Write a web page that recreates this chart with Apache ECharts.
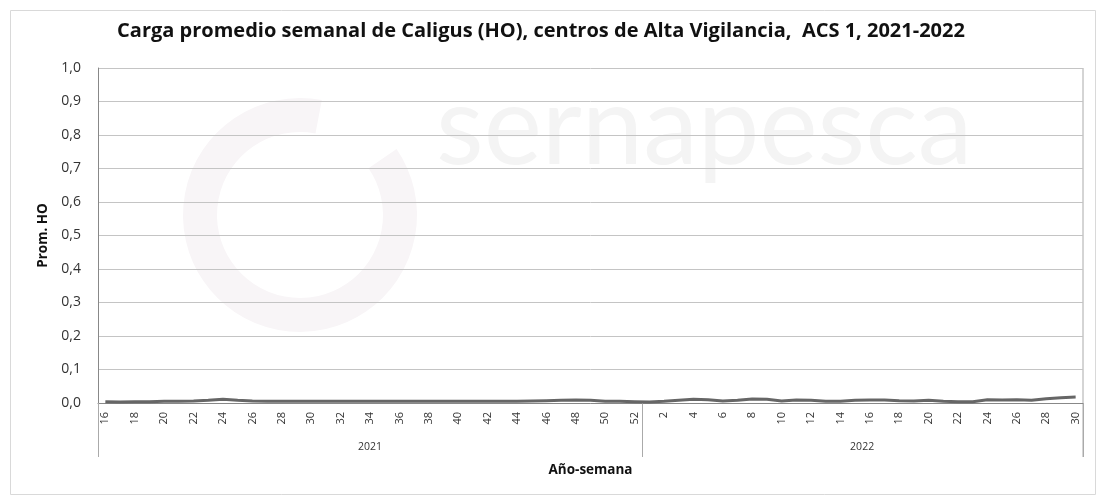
<!DOCTYPE html>
<html>
<head>
<meta charset="utf-8">
<script src="https://cdn.jsdelivr.net/npm/echarts@6/dist/echarts.min.js"></script>
<style>
  html, body { margin: 0; padding: 0; background: #fff; }
  #chart { width: 1101px; height: 500px; }
</style>
</head>
<body>
<div id="chart"></div>
<script>
// semanas 2021 (16-52) y 2022 (1-30)
const weeks2021 = [16,17,18,19,20,21,22,23,24,25,26,27,28,29,30,31,32,33,34,35,36,37,38,39,40,41,42,43,44,45,46,47,48,49,50,51,52];
const weeks2022 = [1,2,3,4,5,6,7,8,9,10,11,12,13,14,15,16,17,18,19,20,21,22,23,24,25,26,27,28,29,30];
const years = ["2021", "2022"];

// Prom. HO por semana
const promHO2021 = [0.004,0.003,0.004,0.004,0.005,0.005,0.006,0.008,0.011,0.008,0.006,0.005,0.005,0.005,0.005,0.005,0.005,0.005,0.005,0.005,0.005,0.005,0.005,0.005,0.005,0.005,0.005,0.005,0.005,0.006,0.007,0.008,0.009,0.008,0.005,0.005,0.004];
const promHO2022 = [0.003,0.005,0.008,0.011,0.010,0.006,0.008,0.012,0.011,0.006,0.009,0.008,0.005,0.005,0.008,0.009,0.009,0.007,0.006,0.008,0.005,0.004,0.004,0.010,0.009,0.010,0.008,0.013,0.016,0.018];

const yTicks = [0, 0.1, 0.2, 0.3, 0.4, 0.5, 0.6, 0.7, 0.8, 0.9, 1.0];

const weekLabels = weeks2021.concat(weeks2022).map(String);
const yearOfPoint = weeks2021.map(() => years[0]).concat(weeks2022.map(() => years[1]));
const values = promHO2021.concat(promHO2022);
const n2021 = weeks2021.length;
const mid2021 = Math.floor(n2021 / 2);
const mid2022 = n2021 + Math.floor(weeks2022.length / 2) - 1;

const myChart = echarts.init(document.getElementById("chart"));
myChart.setOption({
  animation: false,
  textStyle: { fontFamily: "Open Sans" },
  title: {
    text: "Carga promedio semanal de Caligus (HO), centros de Alta Vigilancia,  ACS 1, 2021-2022",
    left: 536,
    textAlign: "center",
    top: 16,
    textStyle: { fontSize: 20, fontWeight: "bold", color: "#111", fontFamily: "Open Sans" },
  },
  graphic: [
    {
      type: "rect",
      left: 8, top: 8,
      shape: { width: 1085, height: 484 },
      style: { fill: "none", stroke: "#d9d9d9", lineWidth: 1 },
      silent: true,
    },
    // marca de agua
    {
      type: "arc",
      z: -1,
      shape: { cx: 300, cy: 215, r: 100, startAngle: -0.6, endAngle: 4.9 },
      style: { fill: "none", stroke: "#f8f5f7", lineWidth: 34 },
      silent: true,
    },
    {
      type: "text",
      left: 436, top: 74,
      z: -1,
      style: { text: "sernapesca", fontSize: 110, fontFamily: "Lato", fill: "#f4f4f4" },
      silent: true,
    },
    {
      type: "line",
      shape: { x1: 1083, y1: 68, x2: 1083, y2: 457 },
      style: { stroke: "#aaa", lineWidth: 1 },
      silent: true,
    },
  ],
  grid: { left: 98, right: 18, top: 68, bottom: 97 },
  xAxis: [
    {
      type: "category",
      data: weekLabels,
      boundaryGap: true,
      name: "Año-semana",
      nameLocation: "middle",
      nameGap: 60,
      nameTextStyle: { fontSize: 13.5, fontWeight: "bold", color: "#111" },
      axisLine: { lineStyle: { color: "#888" } },
      axisTick: { show: false },
      axisLabel: { interval: 1, rotate: 90, fontSize: 11, color: "#333", margin: 9 },
    },
    {
      type: "category",
      data: yearOfPoint,
      position: "bottom",
      boundaryGap: true,
      axisLine: { show: false },
      axisTick: {
        show: true,
        length: 54,
        interval: (i) => i === 0 || i === n2021,
        lineStyle: { color: "#aaa" },
      },
      axisLabel: {
        interval: (i) => i === mid2021 || i === mid2022,
        margin: 39,
        fontSize: 10.5,
        color: "#333",
        formatter: (v, i) => (i === mid2022 ? "{b|" + v + "}" : v),
        rich: { b: { fontSize: 10.5, color: "#333", padding: [0, 0, 0, 14] } },
      },
    },
  ],
  yAxis: {
    type: "value",
    min: yTicks[0],
    max: yTicks[yTicks.length - 1],
    interval: 0.1,
    name: "Prom. HO",
    nameLocation: "middle",
    nameGap: 43,
    nameTextStyle: { fontSize: 13.5, fontWeight: "bold", color: "#111" },
    axisLine: { show: true, lineStyle: { color: "#888" } },
    axisTick: { show: false },
    axisLabel: {
      fontSize: 14,
      color: "#333",
      margin: 17,
      formatter: (v) => v.toFixed(1).replace(".", ","),
    },
    splitLine: { lineStyle: { color: "#c4c4c4" } },
  },
  series: [
    {
      name: "Prom. HO",
      type: "line",
      data: values,
      symbol: "none",
      lineStyle: { color: "#666", width: 3 },
    },
  ],
});
</script>
</body>
</html>
